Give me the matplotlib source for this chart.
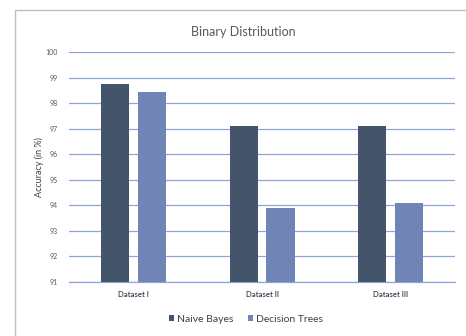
import numpy as np
import matplotlib
matplotlib.use("Agg")
import matplotlib.pyplot as plt
from matplotlib.patches import Rectangle

# data
datasets = ["Dataset I", "Dataset II", "Dataset III"]
naive_bayes = [98.76, 97.11, 97.11]
decision_trees = [98.44, 93.89, 94.10]
y_ticks = list(range(91, 101))

plt.rcParams["font.family"] = ["Lato", "DejaVu Sans"]

fig = plt.figure(figsize=(4.66, 3.36), dpi=100)
# light grey frame of the chart area (top and left edges visible)
fig.patches.append(Rectangle((15 / 466, -0.1), 1.2, 1 - 10 / 336 + 0.1,
                             transform=fig.transFigure, fill=False,
                             edgecolor="#BFBFBF", linewidth=1.0))

ax = fig.add_axes([69.3 / 466, 1 - 281.7 / 336, 385.7 / 466, (281.7 - 52.3) / 336])

x = np.arange(len(datasets))
w = 0.22
off = 0.143
ax.bar(x - off, naive_bayes, w, color="#44546A", label="Naive Bayes", zorder=3)
ax.bar(x + off, decision_trees, w, color="#7084B6", label="Decision Trees", zorder=3)

ax.set_ylim(91, 100)
ax.set_xlim(-0.5, 2.5)
ax.set_yticks(y_ticks)
ax.set_yticklabels([str(t) for t in y_ticks], fontsize=5, color="#595959")
ax.set_xticks(x)
ax.set_xticklabels(datasets, fontsize=5.6, color="#333F50", fontweight="semibold")
ax.tick_params(axis="both", length=0)
ax.tick_params(axis="y", pad=8)
ax.tick_params(axis="x", pad=7)
ax.yaxis.grid(True, color="#8FA6DA", linewidth=0.9, zorder=0)
for s in ["top", "right", "left"]:
    ax.spines[s].set_visible(False)
ax.spines["bottom"].set_color("#8FA6DA")
ax.spines["bottom"].set_linewidth(0.9)

fig.text(39 / 466, 1 - 167 / 336, "Accuracy (in %)", rotation=90, ha="center",
         va="center", fontsize=6.5, color="#404040")
fig.text(243 / 466, 1 - 32 / 336, "Binary Distribution", ha="center", va="center",
         fontsize=9, color="#595959")

fig.legend(loc="center", bbox_to_anchor=(246 / 466, 1 - 319 / 336), ncol=2,
           frameon=False, fontsize=7.5, handlelength=0.5, handleheight=0.6,
           handletextpad=0.3, columnspacing=1.4, labelcolor="#404040")

fig.savefig("out.png", dpi=100)
